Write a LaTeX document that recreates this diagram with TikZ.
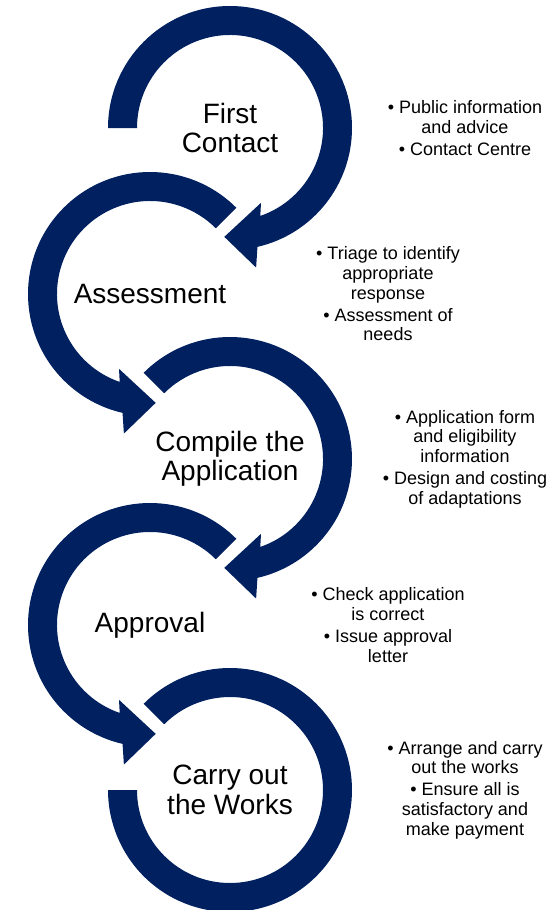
\documentclass[tikz,border=0pt]{standalone}
\usepackage{fontspec}
\setmainfont{Liberation Sans}
\usepackage{tikz}
\usetikzlibrary{calc, positioning}
\definecolor{navyring}{RGB}{0,32,96}

\tikzset{
    ring/.style={fill=navyring, draw=none},                          % dark blue circular arrows
    steplabel/.style={font=\fontsize{21}{22}\selectfont, align=center}, % text in the middle of a ring
    notetext/.style={font=\fontsize{13.5}{14.8}\selectfont, align=center} % bullets on the right
}

\begin{document}
\begin{tikzpicture}[x=0.75pt, y=0.75pt]
    \useasboundingbox (0,0) rectangle (552,-910);

    % ring centres, the rings zig-zag down the page
    \coordinate (c1) at (230,-128);
    \coordinate (c2) at (150,-294);
    \coordinate (c3) at (230,-459);
    \coordinate (c4) at (150,-625);
    \coordinate (c5) at (230,-790);

    % clockwise rings (1 and 3) end with a head pointing down-left
    \fill[ring] (c1) ++(180:122) arc[start angle=180, end angle=-77, radius=122]
        -- ($(c1)+(-79.4:142)$) -- ($(c1)+(-93:109)$) -- ($(c1)+(-67.5:81)$)
        -- ($(c1)+(-71:93)$) arc[start angle=-71, end angle=180, radius=93] -- cycle;
    \fill[ring] (c3) ++(135:122) arc[start angle=135, end angle=-77, radius=122]
        -- ($(c3)+(-79.4:142)$) -- ($(c3)+(-93:109)$) -- ($(c3)+(-67.5:81)$)
        -- ($(c3)+(-71:93)$) arc[start angle=-71, end angle=135, radius=93] -- cycle;

    % anticlockwise rings (2 and 4) end with a head pointing right
    \fill[ring] (c2) ++(45:122) arc[start angle=45, end angle=257, radius=122]
        -- ($(c2)+(259.4:142)$) -- ($(c2)+(273:109)$) -- ($(c2)+(247.5:81)$)
        -- ($(c2)+(251:93)$) arc[start angle=251, end angle=45, radius=93] -- cycle;
    \fill[ring] (c4) ++(45:122) arc[start angle=45, end angle=257, radius=122]
        -- ($(c4)+(259.4:142)$) -- ($(c4)+(273:109)$) -- ($(c4)+(247.5:81)$)
        -- ($(c4)+(251:93)$) arc[start angle=251, end angle=45, radius=93] -- cycle;

    % last ring has no head
    \fill[ring] (c5) ++(135:122) arc[start angle=135, end angle=-180, radius=122]
        -- ($(c5)+(180:93)$) arc[start angle=-180, end angle=135, radius=93] -- cycle;

    % step names
    \node[steplabel] (first)   at (c1) {First\\Contact};
    \node[steplabel] (assess)  at (c2) {Assessment};
    \node[steplabel] (compile) at (c3) {Compile the\\Application};
    \node[steplabel] (approve) at (c4) {Approval};
    \node[steplabel] (works)   at (c5) {Carry out\\the Works};

    % notes on the right
    \node[notetext] (note1) at ($(c1)+(235,0)$) {%
        \textbullet\ Public information\\and advice\\[1.6pt]
        \textbullet\ Contact Centre};
    \node[notetext] (note2) at ($(c2)+(238,0)$) {%
        \textbullet\ Triage to identify\\appropriate\\response\\[1.6pt]
        \textbullet\ Assessment of\\needs};
    \node[notetext] (note3) at ($(c3)+(235,0)$) {%
        \textbullet\ Application form\\and eligibility\\information\\[1.6pt]
        \textbullet\ Design and costing\\of adaptations};
    \node[notetext] (note4) at ($(c4)+(238,0)$) {%
        \textbullet\ Check application\\is correct\\[1.6pt]
        \textbullet\ Issue approval\\letter};
    \node[notetext] (note5) at ($(c5)+(235,0)$) {%
        \textbullet\ Arrange and carry\\out the works\\[1.6pt]
        \textbullet\ Ensure all is\\satisfactory and\\make payment};
\end{tikzpicture}
\end{document}
